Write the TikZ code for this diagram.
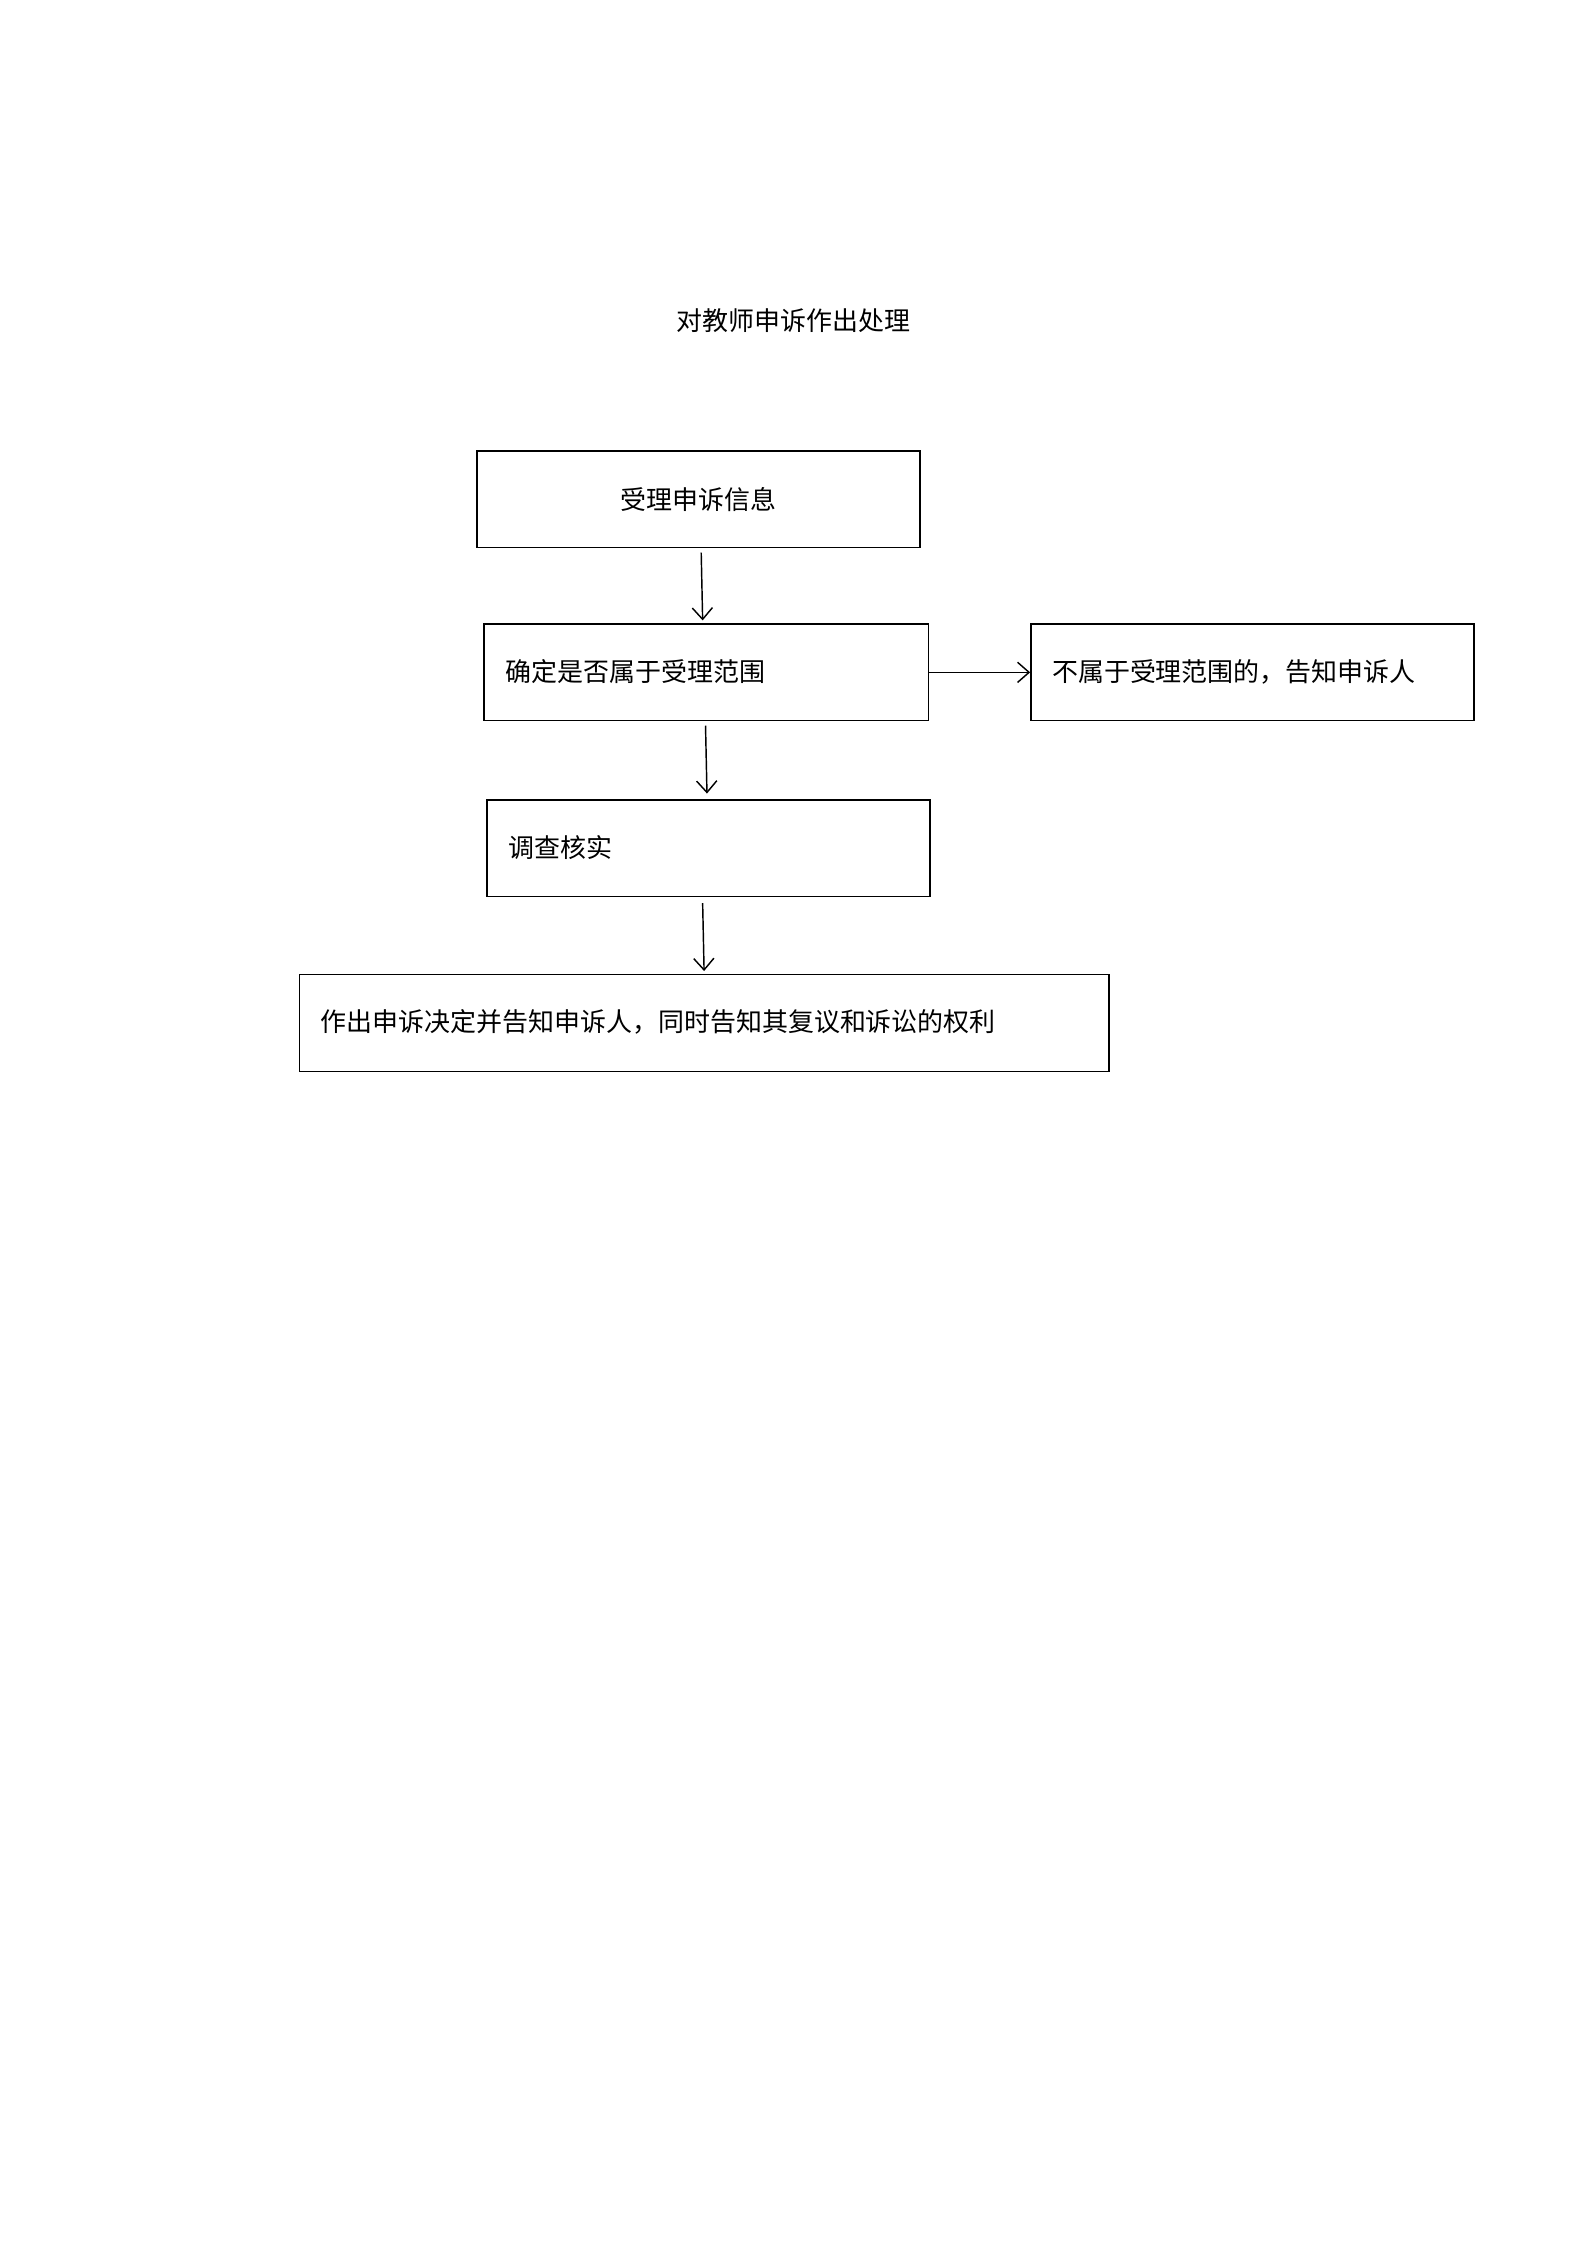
\documentclass[tikz,border=0pt]{standalone}
\usepackage{fontspec}
\newfontfamily\cjk{Noto Sans CJK SC}
\usetikzlibrary{arrows.meta}
\begin{document}
\begin{tikzpicture}[x=1pt,y=-1pt,
  box/.style={draw,line width=1pt,minimum height=67pt,anchor=north west,inner sep=0pt},
  lbl/.style={font=\cjk\fontsize{18}{20}\selectfont,anchor=west,inner sep=0pt},
  arr/.style={line width=1pt,-{Straight Barb[length=8pt,width=14pt]}}]
\useasboundingbox (0,0) rectangle (1100,1556);
\node[font=\cjk\fontsize{18}{20}\selectfont] (t) at (550,222) {对教师申诉作出处理};
\node[box,minimum width=307pt] (b1) at (330,312) {};
\node[font=\cjk\fontsize{18}{20}\selectfont] at (b1.center) {受理申诉信息};
\node[box,minimum width=308pt] (b2) at (335,432) {};
\node[lbl] at (350,465.5) {确定是否属于受理范围};
\node[box,minimum width=307pt] (b5) at (714,432) {};
\node[lbl] at (729,465.5) {不属于受理范围的，告知申诉人};
\node[box,minimum width=307pt] (b3) at (337,554) {};
\node[lbl] at (352,587.5) {调查核实};
\node[box,minimum width=561pt] (b4) at (207,675) {};
\node[lbl] at (222,708.5) {作出申诉决定并告知申诉人，同时告知其复议和诉讼的权利};
\coordinate (a1) at (486,383); \coordinate (a2) at (487,430);
\draw[arr] (a1) -- (a2);
\coordinate (c1) at (489,503); \coordinate (c2) at (490,550);
\draw[arr] (c1) -- (c2);
\coordinate (d1) at (487,626); \coordinate (d2) at (488,673);
\draw[arr] (d1) -- (d2);
\draw[arr] (b2.east) -- (b5.west);
\end{tikzpicture}
\end{document}
